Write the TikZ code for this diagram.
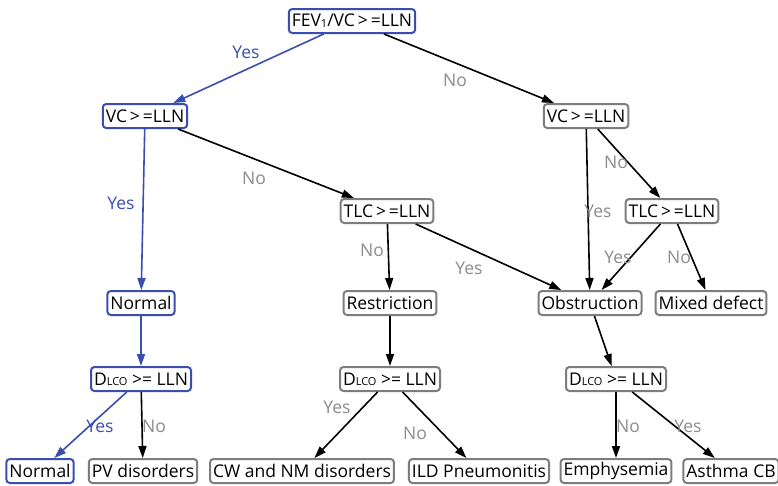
\documentclass[tikz,border=0pt]{standalone}
\usepackage{fontspec}
\setmainfont{Open Sans}
\usetikzlibrary{arrows.meta}

\definecolor{treeblue}{RGB}{58,78,178}
\definecolor{boxgray}{RGB}{125,125,125}
\definecolor{lblgray}{RGB}{140,140,140}

\tikzset{
  box/.style={draw=boxgray, line width=2pt, rounded corners=3.5pt, fill=white,
    inner xsep=3pt, inner ysep=0pt, minimum height=24pt, text=black,
    font=\fontsize{17.5}{19}\selectfont},
  bluebox/.style={box, draw=treeblue},
  link/.style={->, line width=1.6pt, black,
    every node/.style={text=lblgray, inner sep=0pt, font=\fontsize{17.5}{19}\selectfont}},
  bluelink/.style={link, treeblue, every node/.style={text=treeblue, inner sep=0pt,
    font=\fontsize{17.5}{19}\selectfont}},
}
\newcommand{\dlco}{D{\fontsize{11}{11}\selectfont LCO}}
\newcommand{\atleast}{\,>\,=}

\begin{document}
\begin{tikzpicture}[x=1pt,y=-1pt,>={Triangle[length=12pt,width=8pt]}]

\useasboundingbox (0,0) rectangle (778,485);
\clip (0,0) rectangle (778,485);
\fill[white] (0,0) rectangle (778,485);

% tests
\node[bluebox] (fev)  at (352,21)  {FEV\raisebox{-1pt}{\fontsize{11}{11}\selectfont 1}/VC\atleast LLN};
\node[bluebox] (vcA)  at (145,116) {VC\atleast LLN};
\node[box]     (vcB)  at (586,116) {VC\atleast LLN};
\node[box]     (tlcA) at (387,211) {TLC\atleast LLN};
\node[box]     (tlcB) at (672,211) {TLC\atleast LLN};

% middle row
\node[bluebox] (normA) at (141,303) {Normal};
\node[box]     (restr) at (390,303) {Restriction};
\node[box]     (obst)  at (590,303) {Obstruction};
\node[box]     (mixed) at (711,303) {Mixed defect};

\node[bluebox] (dlcoA) at (141,379) {\dlco{} >= LLN};
\node[box]     (dlcoB) at (390,379) {\dlco{} >= LLN};
\node[box]     (dlcoC) at (616,379) {\dlco{} >= LLN};

% leaves
\node[bluebox] (normB) at (40,471)  {Normal};
\node[box]     (pv)    at (143,471) {PV disorders};
\node[box]     (cw)    at (302,471) {CW and NM disorders};
\node[box]     (ild)   at (479,471) {ILD Pneumonitis};
\node[box]     (emph)  at (616,471) {Emphysemia};
\node[box]     (asth)  at (731,471) {Asthma CB};

\foreach \a/\b/\s/\t/\x/\y in {fev/vcA/bluelink/Yes/246/52, fev/vcB/link/No/455/80,
    vcA/normA/bluelink/Yes/121/203, vcA/tlcA/link/No/254/178,
    vcB/obst/link/Yes/598/211, vcB/tlcB/link/No/616/162,
    tlcA/restr/link/No/372/250, tlcA/obst/link/Yes/469/268,
    tlcB/obst/link/Yes/618/257, tlcB/mixed/link/No/679/257,
    dlcoA/normB/bluelink/Yes/100/426, dlcoA/pv/link/No/154/426,
    dlcoB/cw/link/Yes/337/407, dlcoB/ild/link/No/415/433,
    dlcoC/emph/link/No/628/426, dlcoC/asth/link/Yes/688/426}
\draw[\s] (\a) -- (\b) node at (\x,\y) {\t};

\draw[bluelink] (normA) -- (dlcoA);
\draw[link] (restr) -- (dlcoB);
\draw[link] (obst) -- (dlcoC);
\end{tikzpicture}
\end{document}
